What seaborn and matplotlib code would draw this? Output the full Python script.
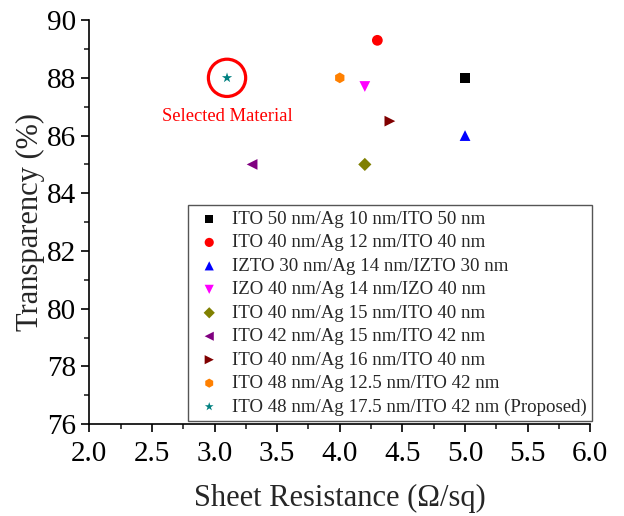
import matplotlib
matplotlib.use("Agg")
import matplotlib.pyplot as plt
from matplotlib.ticker import MultipleLocator
import seaborn as sns
import pandas as pd

labels = [
    "ITO 50 nm/Ag 10 nm/ITO 50 nm",
    "ITO 40 nm/Ag 12 nm/ITO 40 nm",
    "IZTO 30 nm/Ag 14 nm/IZTO 30 nm",
    "IZO 40 nm/Ag 14 nm/IZO 40 nm",
    "ITO 40 nm/Ag 15 nm/ITO 40 nm",
    "ITO 42 nm/Ag 15 nm/ITO 42 nm",
    "ITO 40 nm/Ag 16 nm/ITO 40 nm",
    "ITO 48 nm/Ag 12.5 nm/ITO 42 nm",
    "ITO 48 nm/Ag 17.5 nm/ITO 42 nm (Proposed)",
]
sheet_resistance = [5.0, 4.3, 5.0, 4.2, 4.2, 3.3, 4.4, 4.0, 3.1]
transparency = [88.0, 89.3, 86.0, 87.7, 85.0, 85.0, 86.5, 88.0, 88.0]
colors = ["#000000", "#FF0000", "#0000FF", "#FF00FF", "#808000",
          "#800080", "#800000", "#FF8000", "#008080"]
markers = ["s", "o", "^", "v", "D", "<", ">", "h", "*"]
sizes = [50, 60, 60, 60, 45, 60, 60, 60, 60]

df = pd.DataFrame({"Material": labels, "R": sheet_resistance, "T": transparency})

sns.set_style("ticks")
plt.rcParams['font.family'] = ['Liberation Serif', 'DejaVu Serif']

fig = plt.figure(figsize=(6.24, 5.16), dpi=100)
ax = fig.add_axes([0.143, 0.178, 0.803, 0.783])

for lab, x, y, c, m, s in zip(labels, sheet_resistance, transparency, colors, markers, sizes):
    sns.scatterplot(x=[x], y=[y], ax=ax, color=c, marker=m, s=s, label=lab,
                    edgecolor="none", linewidth=0)

# highlight circle around the proposed material
ax.scatter([sheet_resistance[-1]], [transparency[-1]], s=720, facecolors="none",
           edgecolors="#FF0000", linewidths=2.3, zorder=3)
ax.text(sheet_resistance[-1], transparency[-1] - 1.33, "Selected Material", color="#FF0000",
        fontsize=13.4, ha="center", va="center")

ax.set_xlim(2.0, 6.0)
ax.set_ylim(76, 90)
ax.xaxis.set_major_locator(MultipleLocator(0.5))
ax.xaxis.set_minor_locator(MultipleLocator(0.25))
ax.yaxis.set_major_locator(MultipleLocator(2))
ax.yaxis.set_minor_locator(MultipleLocator(1))
ax.tick_params(axis="both", which="major", direction="out", length=6, width=1.2,
               labelsize=21, colors="black")
ax.tick_params(axis="x", which="major", pad=6)
ax.tick_params(axis="both", which="minor", direction="out", length=3.5, width=1.2)
ax.set_xticklabels([f"{v:.1f}" for v in ax.get_xticks()])

ax.set_xlabel("Sheet Resistance (\u03a9/sq)", fontsize=22, labelpad=12)
ax.set_ylabel("Transparency (%)", fontsize=22, labelpad=1)

for side in ["top", "right"]:
    ax.spines[side].set_visible(False)
for side in ["left", "bottom"]:
    ax.spines[side].set_linewidth(1.2)
    ax.spines[side].set_color("black")

leg = ax.legend(loc="lower right", bbox_to_anchor=(1.004, 0.007), borderaxespad=0,
                fontsize=13.6, frameon=True, fancybox=False, edgecolor="#555555",
                framealpha=1, handletextpad=0.35, borderpad=0.3, labelspacing=0.33,
                markerscale=0.85, handlelength=1.7)
leg.get_frame().set_linewidth(1.0)

fig.savefig("out.png", dpi=100)
